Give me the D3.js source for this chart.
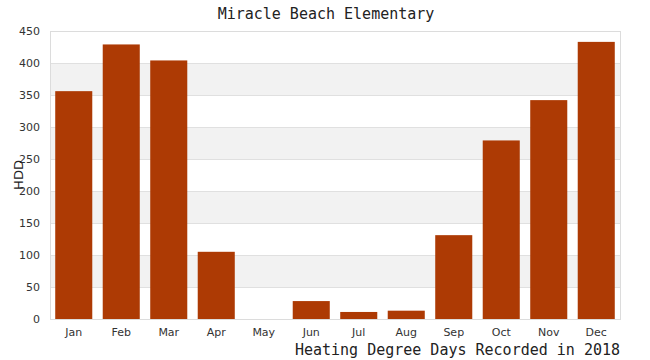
<!DOCTYPE html>
<html><head><meta charset="utf-8">
<script src="https://cdn.jsdelivr.net/npm/d3@7"></script>
<style>body{margin:0;background:#fff}</style>
</head><body>
<svg id="c" width="650" height="360"></svg>
<script>
const months = ["Jan","Feb","Mar","Apr","May","Jun","Jul","Aug","Sep","Oct","Nov","Dec"];
const hdd = [356, 429, 404, 105, 0, 28, 11, 13, 131, 279, 342, 433];
const yTicks = [0,50,100,150,200,250,300,350,400,450];

const svg = d3.select("#c");
const m = {l:50, r:30, t:31, b:41};
const W = 650, H = 360;
const x = d3.scaleBand().domain(months).range([m.l, W-m.r]).paddingInner(0.22).paddingOuter(0.11);
const y = d3.scaleLinear().domain([0,450]).range([H-m.b, m.t]);

// bands
for (let i=0;i<yTicks.length-1;i++){
  if (i%2===1) {
    svg.append("rect").attr("x",m.l).attr("width",W-m.r-m.l)
      .attr("y",y(yTicks[i+1])).attr("height",y(yTicks[i])-y(yTicks[i+1]))
      .attr("fill","#f2f2f2");
  }
}
// grid
svg.append("g").selectAll("line").data(yTicks).join("line")
  .attr("x1",m.l).attr("x2",W-m.r).attr("y1",d=>y(d)+0.5).attr("y2",d=>y(d)+0.5)
  .attr("stroke","#e0e0e0");
// border
svg.append("rect").attr("x",m.l+0.5).attr("y",m.t+0.5).attr("width",W-m.r-m.l).attr("height",H-m.b-m.t)
  .attr("fill","none").attr("stroke","#dcdcdc");

svg.append("g").selectAll("rect").data(hdd).join("rect")
  .attr("x",(d,i)=>x(months[i])).attr("width",x.bandwidth())
  .attr("y",d=>y(d)).attr("height",d=>y(0)-y(d)).attr("fill","#ad3a04");

const ya = svg.append("g").attr("transform",`translate(${m.l},0)`)
  .call(d3.axisLeft(y).tickValues(yTicks).tickSize(0).tickPadding(10));
ya.select(".domain").remove();
ya.selectAll("text").attr("font-family","DejaVu Sans").attr("font-size",11).attr("fill","#333");

const xa = svg.append("g").attr("transform",`translate(0,${H-m.b})`)
  .call(d3.axisBottom(x).tickSize(0).tickPadding(9));
xa.select(".domain").remove();
xa.selectAll("text").attr("font-family","DejaVu Sans").attr("font-size",11).attr("fill","#333");

svg.append("text").attr("x",326).attr("y",19).attr("text-anchor","middle")
  .attr("font-family","DejaVu Sans Mono").attr("font-size",15).attr("fill","#222")
  .text("Miracle Beach Elementary");
svg.append("text").attr("transform","translate(23,175) rotate(-90)").attr("text-anchor","middle")
  .attr("font-family","DejaVu Sans").attr("font-size",13).attr("fill","#222").text("HDD");
svg.append("text").attr("x",620).attr("y",355).attr("text-anchor","end")
  .attr("font-family","DejaVu Sans Mono").attr("font-size",15).attr("fill","#222")
  .text("Heating Degree Days Recorded in 2018");
</script>
</body></html>
